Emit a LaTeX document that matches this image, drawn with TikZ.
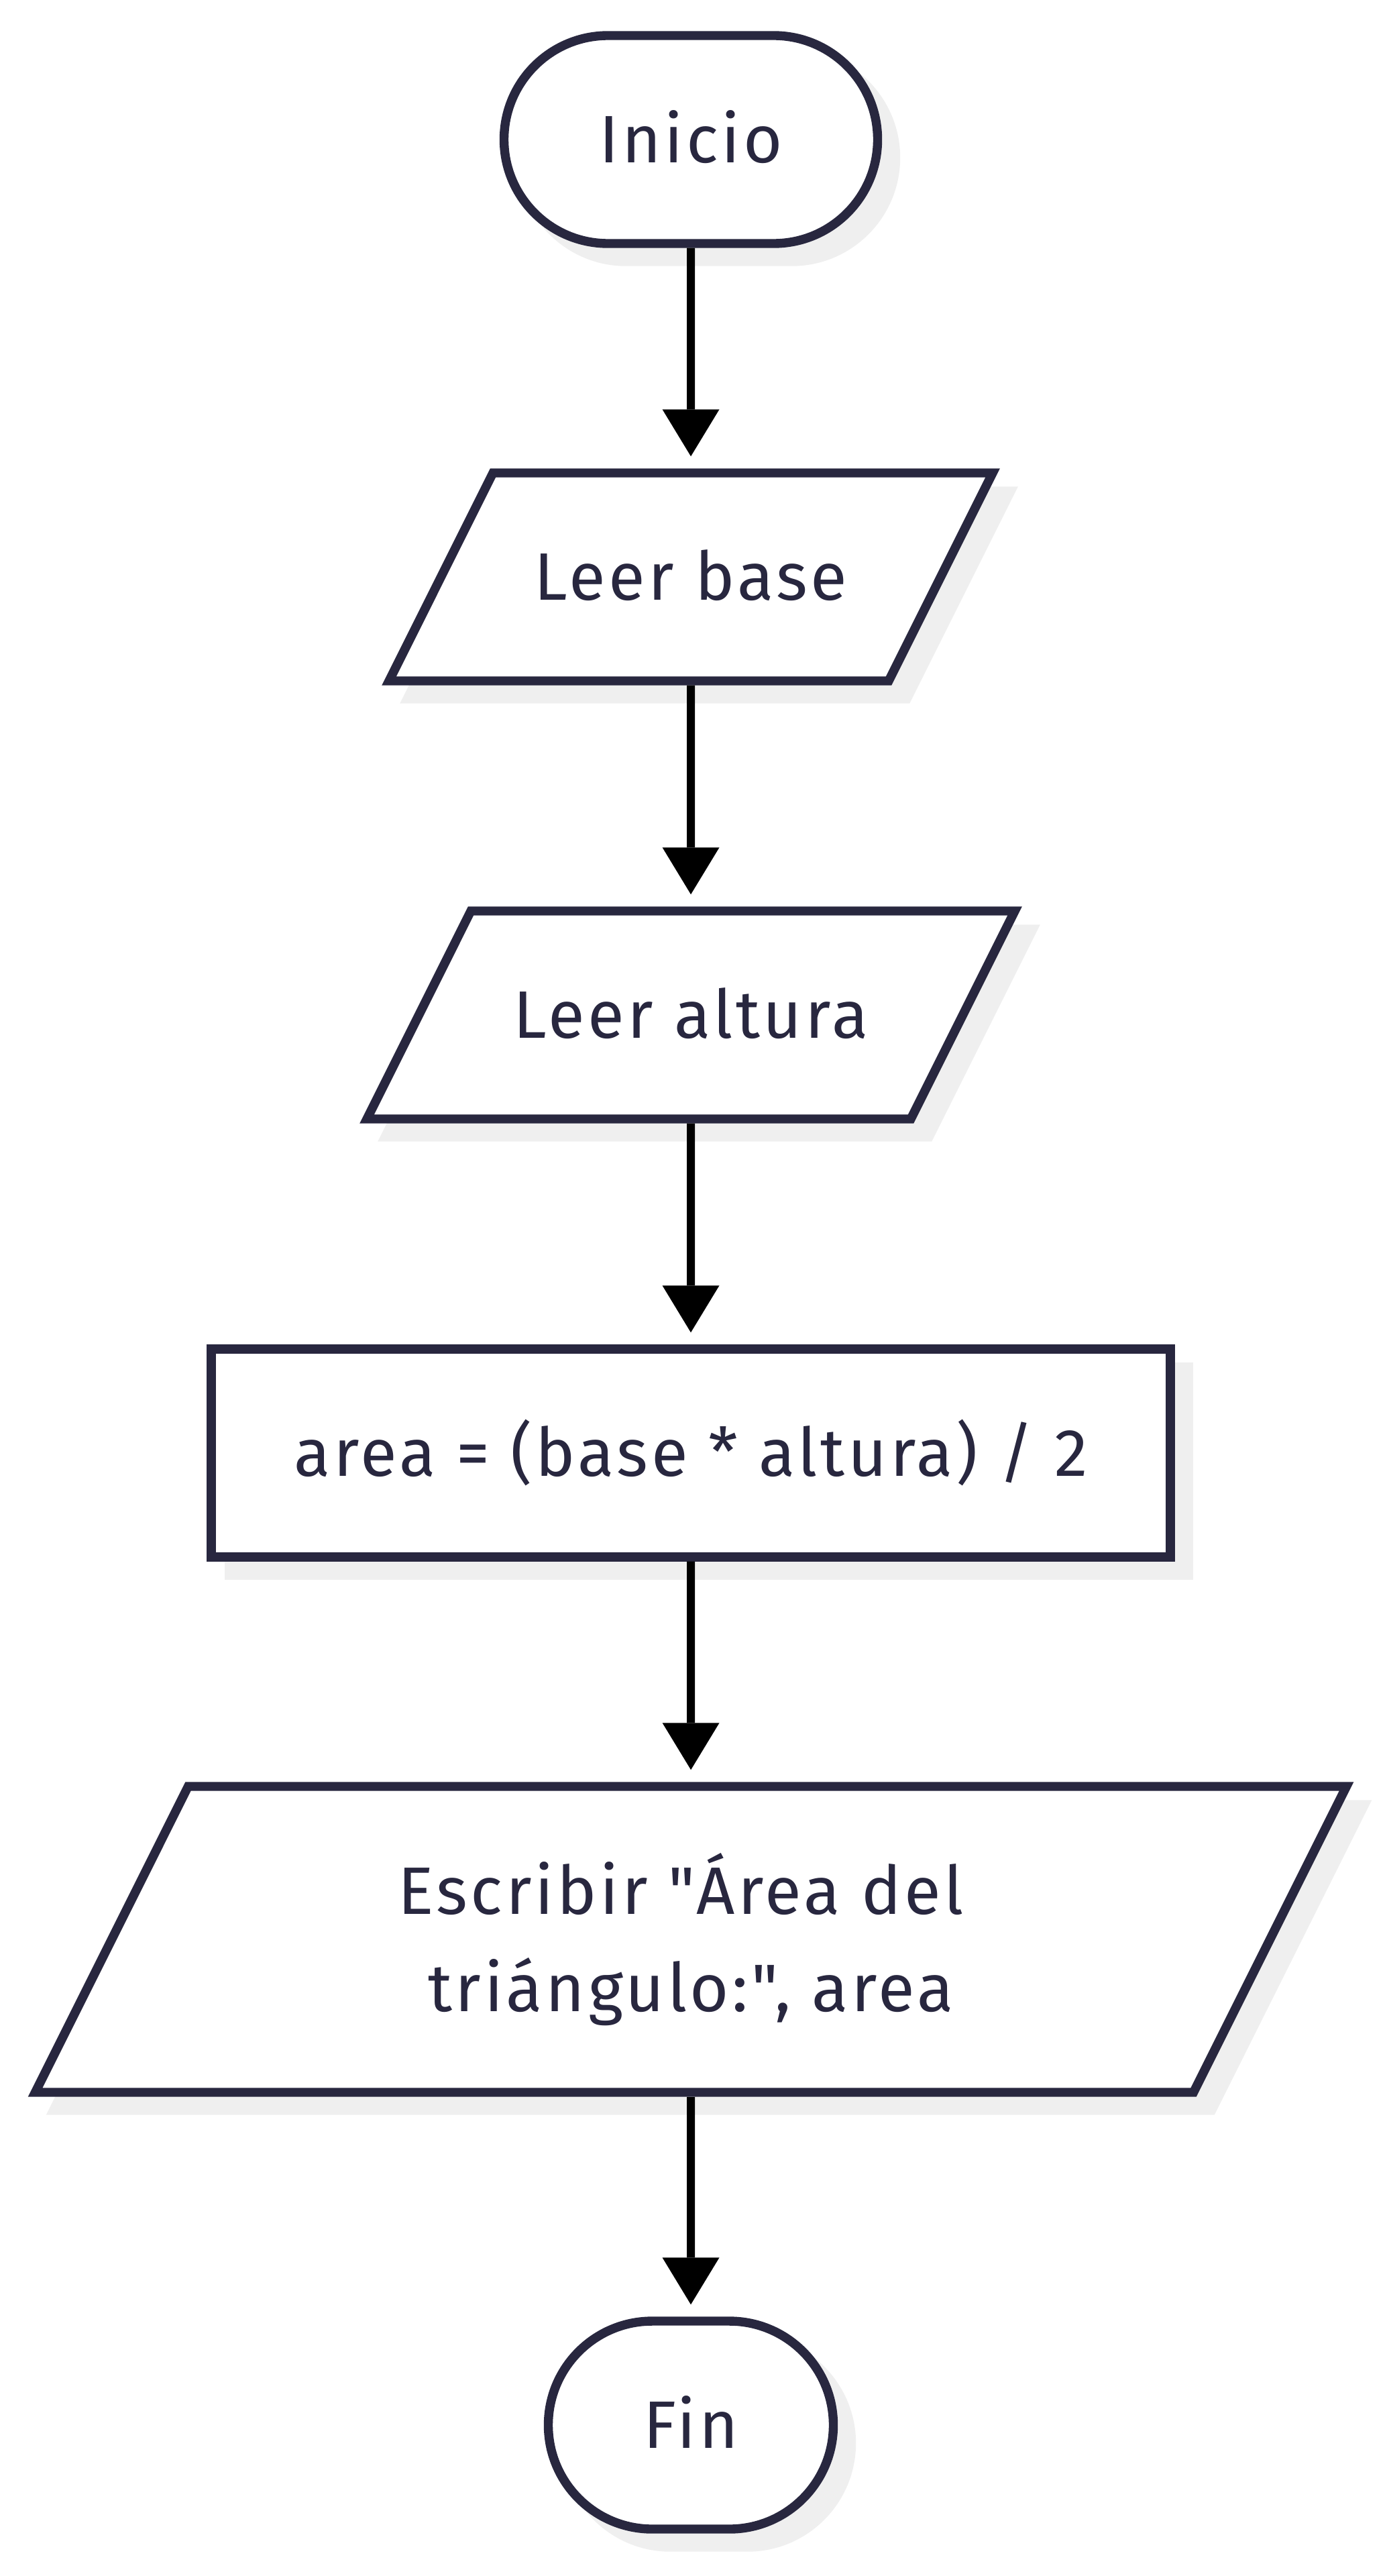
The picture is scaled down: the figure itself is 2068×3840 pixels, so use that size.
\documentclass[tikz,border=0pt]{standalone}
\usepackage{fontspec}
\setmainfont{Fira Sans}[Ligatures=TeXOff, LetterSpace=4.6]
\usetikzlibrary{shapes.geometric,arrows.meta,shadows}
\definecolor{ink}{HTML}{28273F}
\definecolor{shgray}{HTML}{EFEFEF}
% invisible struts fixing the text box so that shapes get exact heights
\newcommand\onestrut{\rule[-120.5pt]{0pt}{310pt}}
\newcommand\topstrut{\rule{0pt}{190.5pt}}
\newcommand\botstrut{\rule[-120.5pt]{0pt}{120.5pt}}
\tikzset{
  base/.style={draw=ink, line width=13.4pt, fill=white, text=ink, inner sep=0pt,
    font=\fontsize{100}{145}\selectfont, align=center,
    drop shadow={shadow xshift=27pt, shadow yshift=-27pt, fill=shgray, draw=shgray, opacity=1}},
  term/.style={base, rectangle, rounded corners=155pt, minimum height=310pt},
  proc/.style={base, rectangle},
  io/.style={base, trapezium, trapezium left angle=63.435, trapezium right angle=116.565,
    trapezium stretches body=true},
  arr/.style={draw=black, line width=12pt, shorten >=18pt,
    -{Triangle[length=70pt, width=85pt, line width=0pt]}}
}
\begin{document}
\begin{tikzpicture}[x=1pt, y=-1pt]
\useasboundingbox (0,0) rectangle (2068,3840);
\node[term, minimum width=557pt] (inicio) at (1030,208) {\onestrut Inicio};
\node[io, minimum width=900pt] (leerb) at (1030,860) {\onestrut Leer base};
\node[io, minimum width=966pt] (leera) at (1030,1513) {\onestrut Leer altura};
\node[proc, minimum width=1430pt] (calc) at (1030,2166) {\onestrut area = (base * altura) / 2};
\node[io, minimum width=1955pt] (escr) at (1030,2891) {\topstrut Escribir "Área del\hspace*{30pt}\\\botstrut triángulo:", area};
\node[term, minimum width=425pt] (fin) at (1030,3615) {\onestrut Fin};
\draw[arr] (inicio.south) -- (leerb.north);
\draw[arr] (leerb.south) -- (leera.north);
\draw[arr] (leera.south) -- (calc.north);
\draw[arr] (calc.south) -- (escr.north);
\draw[arr] (escr.south) -- (fin.north);
\end{tikzpicture}
\end{document}
